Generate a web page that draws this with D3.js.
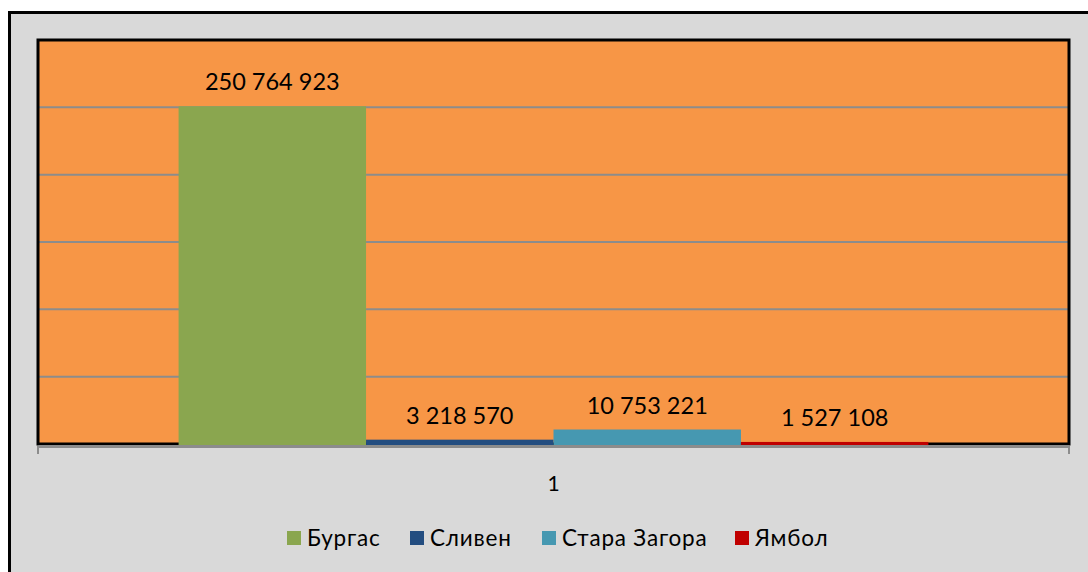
<!DOCTYPE html>
<html>
<head>
<meta charset="utf-8">
<script src="https://cdn.jsdelivr.net/npm/d3@7"></script>
<style>
  body { margin: 0; background: #fff; }
  text { font-family: Lato, 'Noto Sans', sans-serif; fill: #000; }
</style>
</head>
<body>
<svg width="1088" height="572"></svg>
<script>
  const categories = ['1'];
  const seriesNames = ['Бургас', 'Сливен', 'Стара Загора', 'Ямбол'];
  const seriesValues = [250764923, 3218570, 10753221, 1527108];
  const seriesColors = ['#8aa64f', '#234d80', '#4698b1', '#c00000'];
  const yTicks = [0, 50e6, 100e6, 150e6, 200e6, 250e6, 300e6];

  const svg = d3.select('svg');
  const margin = { left: 38, right: 19, top: 40, bottom: 128 };
  const width = 1088 - margin.left - margin.right;
  const height = 572 - margin.top - margin.bottom;

  // outer chart area
  svg.append('rect')
    .attr('x', 9.5).attr('y', 12.5)
    .attr('width', 1100).attr('height', 600)
    .attr('fill', '#d9d9d9')
    .attr('stroke', '#000').attr('stroke-width', 3);

  const g = svg.append('g').attr('transform', `translate(${margin.left},${margin.top})`);

  const x0 = d3.scaleBand().domain(categories).range([0, width]);
  const x1 = d3.scaleBand().domain(seriesNames)
    .range([0, x0.bandwidth()])
    .paddingInner(0).paddingOuter(0.75);
  const y = d3.scaleLinear().domain([0, 300e6]).range([height, 0]);

  g.append('rect')
    .attr('width', width).attr('height', height)
    .attr('fill', '#f79646');

  g.selectAll('line.grid').data(yTicks.slice(1, -1))
    .enter().append('line')
    .attr('class', 'grid')
    .attr('x1', 0).attr('x2', width)
    .attr('y1', d => y(d)).attr('y2', d => y(d))
    .attr('stroke', '#8c8c8c').attr('stroke-width', 2);

  g.append('rect')
    .attr('width', width).attr('height', height)
    .attr('fill', 'none')
    .attr('stroke', '#000').attr('stroke-width', 3);

  // x axis
  const xAxis = g.append('g')
    .attr('transform', `translate(0,${height + 2})`)
    .call(d3.axisBottom(x0).tickSize(0).tickPadding(30));
  xAxis.select('.domain').attr('stroke', '#8c8c8c').attr('stroke-width', 3);
  xAxis.selectAll('text').attr('font-size', 21).attr('fill', '#000');
  xAxis.selectAll('.edge').data([0, width])
    .enter().append('line')
    .attr('class', 'edge')
    .attr('x1', d => d).attr('x2', d => d)
    .attr('y1', 0).attr('y2', 8)
    .attr('stroke', '#8c8c8c').attr('stroke-width', 2);

  const fmt = d3.formatLocale({ decimal: ',', thousands: ' ', grouping: [3], currency: ['', ''] }).format(',d');

  const bars = g.append('g').attr('transform', `translate(${x0(categories[0])},0)`);
  bars.selectAll('rect').data(seriesValues)
    .enter().append('rect')
    .attr('x', (d, i) => x1(seriesNames[i]))
    .attr('y', d => y(d))
    .attr('width', x1.bandwidth())
    .attr('height', d => height + 1 - y(d))
    .attr('fill', (d, i) => seriesColors[i]);

  bars.selectAll('text').data(seriesValues)
    .enter().append('text')
    .attr('x', (d, i) => x1(seriesNames[i]) + x1.bandwidth() / 2)
    .attr('y', d => y(d) - 16)
    .attr('text-anchor', 'middle')
    .attr('font-size', 23.5)
    .text(fmt);

  // legend
  const legendX = [287, 410, 542, 735];
  const legend = svg.append('g').attr('transform', 'translate(0,531)');
  const items = legend.selectAll('g').data(seriesNames)
    .enter().append('g')
    .attr('transform', (d, i) => `translate(${legendX[i]},0)`);
  items.append('rect')
    .attr('width', 14).attr('height', 14)
    .attr('fill', (d, i) => seriesColors[i]);
  items.append('text')
    .attr('x', 20).attr('y', 15)
    .attr('font-size', 22.5)
    .attr('letter-spacing', 0.8)
    .text(d => d);
</script>
</body>
</html>
